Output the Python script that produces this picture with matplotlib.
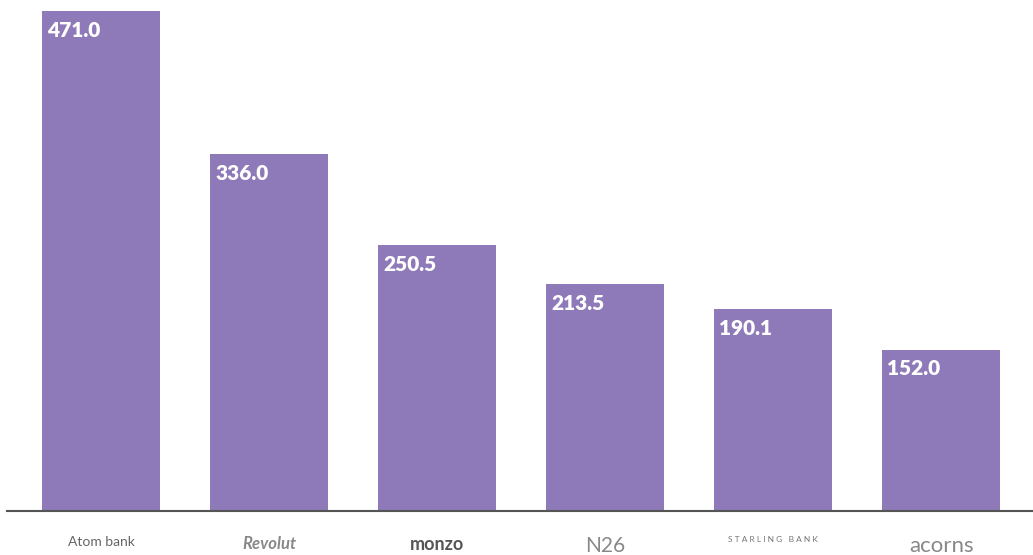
import matplotlib.pyplot as plt

banks = ["Atom bank", "Revolut", "monzo", "N26", "S T A R L I N G   B A N K", "acorns"]
values = [471.0, 336.0, 250.5, 213.5, 190.1, 152.0]

bar_color = "#8e79b9"

fig = plt.figure(figsize=(10.33, 5.55), dpi=100)
ax = fig.add_axes([7 / 1033, 44 / 555, 1026 / 1033, 511 / 555])

x = range(len(banks))
bars = ax.bar(x, values, width=0.70, color=bar_color)

for b, v in zip(bars, values):
    ax.annotate(f"{v:.1f}", (b.get_x(), b.get_height()),
                xytext=(5, -19), textcoords="offset pixels",
                ha="left", va="center", color="white",
                fontsize=15, fontweight="heavy", family="Lato")

ax.set_xlim(-0.56, 5.547)
ax.set_ylim(0, 481.4)

# label styles roughly mimicking the logos
styles = [
    dict(fontsize=10, color="#666666", fontweight="normal"),
    dict(fontsize=12, color="#888888", fontweight="bold", style="italic"),
    dict(fontsize=13, color="#555555", fontweight="bold"),
    dict(fontsize=15, color="#888888", fontweight="normal"),
    dict(fontsize=6, color="#777777", fontweight="normal"),
    dict(fontsize=16, color="#888888", fontweight="normal"),
]
ax.set_xticks(list(x))
ax.set_xticklabels(banks, family="Lato")
for lab, st in zip(ax.get_xticklabels(), styles):
    lab.set_fontsize(st["fontsize"])
    lab.set_color(st["color"])
    lab.set_fontweight(st["fontweight"])
    if "style" in st:
        lab.set_fontstyle(st["style"])
ax.tick_params(axis="x", length=0, pad=18)
ax.set_yticks([])

for s in ["top", "right", "left"]:
    ax.spines[s].set_visible(False)
ax.spines["bottom"].set_color("#555555")
ax.spines["bottom"].set_linewidth(1.5)

fig.savefig("out.png", dpi=100)
